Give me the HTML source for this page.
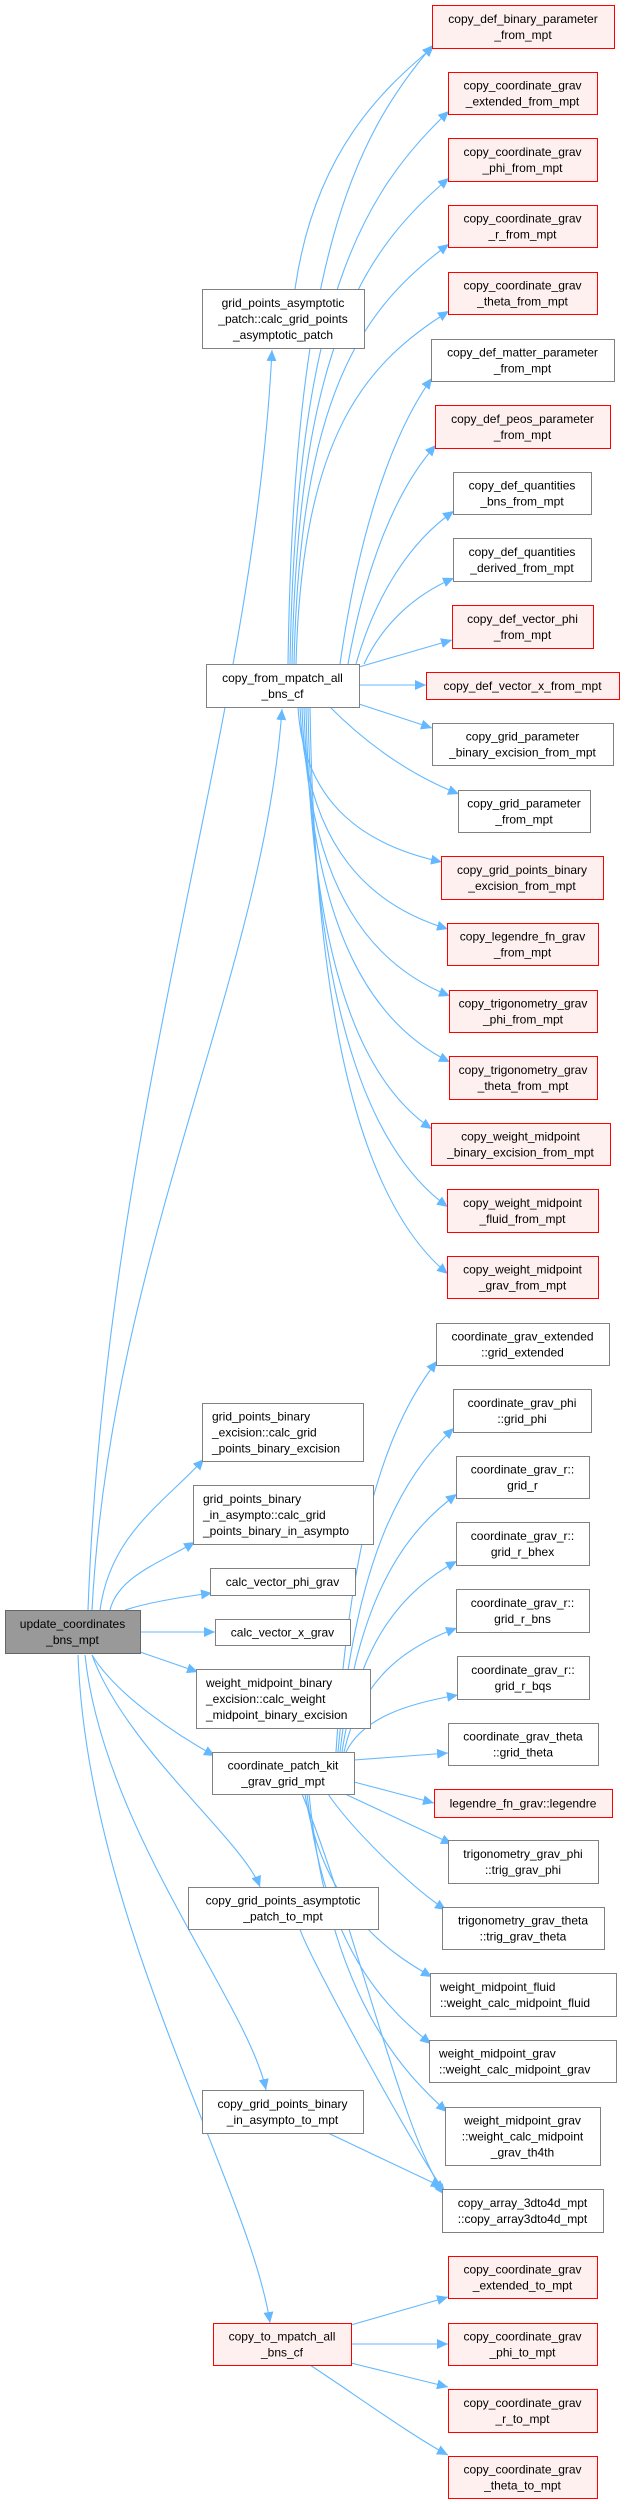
<!DOCTYPE html>
<html><head><meta charset="utf-8"><style>
html,body{margin:0;padding:0;background:#fff;}
svg{display:block;}
text{font-family:"Liberation Sans",Arial,sans-serif;font-size:12px;fill:#000;}
</style></head><body>
<svg id="s" width="625" height="2504" viewBox="0 0 625 2504" xmlns="http://www.w3.org/2000/svg">
<defs><marker id="ar" markerWidth="12" markerHeight="10" refX="11" refY="5" orient="auto" markerUnits="userSpaceOnUse"><path d="M0,0 L11,5 L0,10 Z" fill="#63b8ff"/></marker></defs>
<g id="E" fill="none" stroke="#63b8ff" stroke-width="1.1"></g>
<g id="N"></g>
</svg>
<script>
var N={
root:[5,1610,140,1653,["update_coordinates","_bns_mpt"],"root"],
gpa:[202,289,364,348,["grid_points_asymptotic","_patch::calc_grid_points","_asymptotic_patch"],"g"],
cfm:[206,664,359,707,["copy_from_mpatch_all","_bns_cf"],"g"],
gbe:[202,1403,363,1461,["grid_points_binary","_excision::calc_grid","_points_binary_excision"],"g","l"],
gbia:[193,1485,373,1544,["grid_points_binary","_in_asympto::calc_grid","_points_binary_in_asympto"],"g","l"],
cvp:[210,1568,355,1595,["calc_vector_phi_grav"],"g"],
cvx:[215,1619,350,1645,["calc_vector_x_grav"],"g"],
wmb:[196,1669,370,1728,["weight_midpoint_binary","_excision::calc_weight","_midpoint_binary_excision"],"g","l"],
cpk:[212,1752,354,1794,["coordinate_patch_kit","_grav_grid_mpt"],"g"],
cgpa:[188,1887,378,1929,["copy_grid_points_asymptotic","_patch_to_mpt"],"g"],
cgbi:[202,2090,363,2133,["copy_grid_points_binary","_in_asympto_to_mpt"],"g"],
ctm:[213,2323,351,2365,["copy_to_mpatch_all","_bns_cf"],"r"],
r0:[432,5,614,48,["copy_def_binary_parameter","_from_mpt"],"r"],
r1:[448,72,597,114,["copy_coordinate_grav","_extended_from_mpt"],"r"],
r2:[448,138,597,181,["copy_coordinate_grav","_phi_from_mpt"],"r"],
r3:[448,205,597,247,["copy_coordinate_grav","_r_from_mpt"],"r"],
r4:[448,272,597,314,["copy_coordinate_grav","_theta_from_mpt"],"r"],
r5:[431,339,614,381,["copy_def_matter_parameter","_from_mpt"],"g"],
r6:[435,405,610,448,["copy_def_peos_parameter","_from_mpt"],"r"],
r7:[453,472,591,514,["copy_def_quantities","_bns_from_mpt"],"g"],
r8:[453,538,591,581,["copy_def_quantities","_derived_from_mpt"],"g"],
r9:[452,605,593,648,["copy_def_vector_phi","_from_mpt"],"r"],
r10:[426,672,619,699,["copy_def_vector_x_from_mpt"],"r"],
r11:[432,723,613,765,["copy_grid_parameter","_binary_excision_from_mpt"],"g"],
r12:[458,790,590,832,["copy_grid_parameter","_from_mpt"],"g"],
r13:[441,856,603,899,["copy_grid_points_binary","_excision_from_mpt"],"r"],
r14:[447,923,598,965,["copy_legendre_fn_grav","_from_mpt"],"r"],
r15:[449,990,597,1032,["copy_trigonometry_grav","_phi_from_mpt"],"r"],
r16:[449,1056,597,1099,["copy_trigonometry_grav","_theta_from_mpt"],"r"],
r17:[431,1123,610,1165,["copy_weight_midpoint","_binary_excision_from_mpt"],"r"],
r18:[447,1189,598,1232,["copy_weight_midpoint","_fluid_from_mpt"],"r"],
r19:[447,1256,598,1298,["copy_weight_midpoint","_grav_from_mpt"],"r"],
s0:[436,1323,609,1365,["coordinate_grav_extended","::grid_extended"],"g"],
s1:[453,1389,591,1432,["coordinate_grav_phi","::grid_phi"],"g"],
s2:[456,1456,589,1498,["coordinate_grav_r::","grid_r"],"g"],
s3:[456,1522,589,1565,["coordinate_grav_r::","grid_r_bhex"],"g"],
s4:[456,1589,589,1632,["coordinate_grav_r::","grid_r_bns"],"g"],
s5:[457,1656,589,1699,["coordinate_grav_r::","grid_r_bqs"],"g"],
s6:[448,1723,598,1765,["coordinate_grav_theta","::grid_theta"],"g"],
s7:[434,1789,612,1817,["legendre_fn_grav::legendre"],"r"],
s8:[448,1840,598,1883,["trigonometry_grav_phi","::trig_grav_phi"],"g"],
s9:[442,1907,604,1949,["trigonometry_grav_theta","::trig_grav_theta"],"g"],
s10:[430,1973,616,2016,["weight_midpoint_fluid","::weight_calc_midpoint_fluid"],"g","l"],
s11:[429,2040,616,2082,["weight_midpoint_grav","::weight_calc_midpoint_grav"],"g","l"],
s12:[445,2107,600,2165,["weight_midpoint_grav","::weight_calc_midpoint","_grav_th4th"],"g"],
ca:[442,2189,603,2232,["copy_array_3dto4d_mpt","::copy_array3dto4d_mpt"],"g"],
t0:[448,2256,597,2298,["copy_coordinate_grav","_extended_to_mpt"],"r"],
t1:[448,2323,597,2365,["copy_coordinate_grav","_phi_to_mpt"],"r"],
t2:[448,2389,597,2432,["copy_coordinate_grav","_r_to_mpt"],"r"],
t3:[448,2456,597,2498,["copy_coordinate_grav","_theta_to_mpt"],"r"]
};
var E=document.getElementById('E'),G=document.getElementById('N'),NS="http://www.w3.org/2000/svg";
function path(sx,sy,ex,ey,a,b,c,d){var dx=ex-sx,dy=ey-sy;
var p=document.createElementNS(NS,'path');
p.setAttribute('d','M'+sx+','+sy+' C'+(sx+a*dx)+','+(sy+b*dy)+' '+(ex-c*dx)+','+(ey-d*dy)+' '+ex+','+ey);
p.setAttribute('marker-end','url(#ar)');E.appendChild(p);}
function L(k){return N[k];}
path(88,1610,272,350,0.1,0.4,0.1,0.3);
path(92,1610,282,709,0.1,0.4,0.1,0.3);
path(100,1610,204,1459,0.1,0.5,0.4,0.3);
path(110,1610,195,1542,0.1,0.5,0.4,0.3);
path(125,1610,212,1593,0.3,0.5,0.3,0.2);
path(140,1632,215,1632,0.3,0,0.3,0);
path(140,1652,198,1672,0.3,0.3,0.3,0.3);
path(92,1655,215,1756,0.2,0.4,0.3,0.2);
path(92,1655,260,1887,0.2,0.4,0.1,0.2);
path(85,1655,266,2090,0.1,0.4,0.1,0.2);
path(78,1655,270,2323,0.05,0.4,0.1,0.2);
path(295,289,434,46,0.15,0.6,0.3,0.15);
var up=['r0','r1','r2','r3','r4','r5','r6','r7','r8'];
up.forEach(function(k,i){var n=L(k);var dy=664-n[3];
 if(dy>300) path(288+i*2,664,n[0]+1,n[3]-3,0.04,0.65,0.55,0.15);
 else path(300+i*8,664,n[0]+1,n[3]-3,0.2,0.45,0.45,0.2);});
path(359,667,452,640,0.3,0.3,0.3,0.3);
path(359,685,426,685,0.3,0,0.3,0);
path(359,704,432,728,0.3,0.3,0.3,0.3);
var dn=['r12','r13','r14','r15','r16','r17','r18','r19'];
dn.forEach(function(k,i){var n=L(k);
 if(i<1) path(330,707,n[0]+1,n[1]+4,0.3,0.45,0.35,0.2);
 else path(296+i*2,707,n[0]+1,n[1]+(i>5?18:6),0.04,0.65,0.5,0.1);});
['s0','s1','s2','s3','s4','s5'].forEach(function(k,i){var n=L(k);
 path(336+i*2,1752,n[0]+1,n[3]-4,0.15,0.6,0.45,0.15);});
path(354,1760,448,1753,0.3,0.3,0.3,0.3);
path(354,1782,434,1803,0.3,0.3,0.3,0.3);
path(345,1794,452,1844,0.3,0.3,0.3,0.3);
path(328,1794,446,1910,0.2,0.3,0.3,0.2);
[['s10',1977],['s11',2044],['s12',2112]].forEach(function(a,i){var n=L(a[0]);
 path(305+i*2,1794,n[0]+2,a[1],0.15,0.65,0.3,0.12);});
path(302,1794,445,2195,0.35,0.3,0.3,0.15);
path(300,1929,445,2191,0.05,0.1,0.1,0.05);
path(328,2133,442,2187,0.3,0.3,0.3,0.3);
path(351,2325,448,2297,0.3,0.3,0.3,0.3);
path(351,2344,448,2344,0.3,0,0.3,0);
path(351,2363,448,2387,0.3,0.3,0.3,0.3);
path(310,2365,448,2455,0.3,0.3,0.25,0.2);
for(var k in N){var n=N[k];var x1=n[0],y1=n[1],x2=n[2],y2=n[3],ls=n[4],st=n[5],al=n[6];
 var r=document.createElementNS(NS,'rect');
 r.setAttribute('x',x1+0.5);r.setAttribute('y',y1+0.5);r.setAttribute('width',x2-x1);r.setAttribute('height',y2-y1);
 r.setAttribute('fill',st=='root'?'#999999':st=='r'?'#fff0f0':'#ffffff');
 r.setAttribute('stroke',st=='root'?'#666666':st=='r'?'#ff0000':'#808080');
 r.setAttribute('stroke-width','1');G.appendChild(r);
 var h=y2-y1,b=y1+(h-16*(ls.length-1))/2+4.5;
 ls.forEach(function(t,i){var tx=document.createElementNS(NS,'text');
  if(al=='l'){tx.setAttribute('x',x1+10);tx.setAttribute('text-anchor','start');}
  else{tx.setAttribute('x',(x1+x2)/2);tx.setAttribute('text-anchor','middle');}
  tx.setAttribute('y',b+16*i);tx.textContent=t;G.appendChild(tx);});
}
</script>
</body></html>
